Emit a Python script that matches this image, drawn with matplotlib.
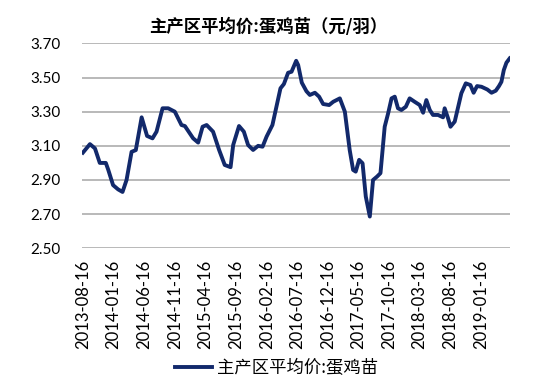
import matplotlib
matplotlib.use("Agg")
import matplotlib.pyplot as plt
import pandas as pd

title = "主产区平均价:蛋鸡苗（元/羽）"
series_name = "主产区平均价:蛋鸡苗"

dates = [
    "2013-08-16", "2013-09-20", "2013-10-15", "2013-11-08", "2013-12-08", "2013-12-20",
    "2014-01-13", "2014-02-07", "2014-03-01", "2014-03-21", "2014-04-15", "2014-05-06",
    "2014-06-04", "2014-07-01", "2014-07-28", "2014-08-17", "2014-09-16", "2014-10-14",
    "2014-11-16", "2014-12-19", "2015-01-05", "2015-02-15", "2015-03-12", "2015-04-03",
    "2015-04-23", "2015-05-25", "2015-06-24", "2015-07-22", "2015-08-20", "2015-09-02",
    "2015-10-01", "2015-10-25", "2015-11-15", "2015-12-10", "2016-01-04", "2016-01-26",
    "2016-02-15", "2016-03-15", "2016-04-24", "2016-05-11", "2016-06-01", "2016-06-18",
    "2016-07-11", "2016-07-21", "2016-08-08", "2016-08-31", "2016-09-17", "2016-10-12",
    "2016-11-02", "2016-11-22", "2016-12-22", "2017-01-11", "2017-02-13", "2017-03-10",
    "2017-04-03", "2017-04-20", "2017-05-03", "2017-05-20", "2017-06-06", "2017-06-22",
    "2017-07-12", "2017-07-28", "2017-08-17", "2017-09-03", "2017-09-24", "2017-10-11",
    "2017-10-28", "2017-11-13", "2017-11-29", "2017-12-16", "2018-01-07", "2018-01-26",
    "2018-02-20", "2018-03-17", "2018-04-03", "2018-04-19", "2018-05-06", "2018-05-22",
    "2018-06-16", "2018-07-11", "2018-07-19", "2018-08-05", "2018-08-17", "2018-09-07",
    "2018-10-10", "2018-11-01", "2018-11-24", "2018-12-10", "2018-12-27", "2019-01-18",
    "2019-02-16", "2019-03-09", "2019-03-30", "2019-04-15", "2019-04-27", "2019-05-09",
    "2019-05-22", "2019-06-07",
]
values = [
    3.06, 3.11, 3.085, 3.00, 3.00, 2.96,
    2.87, 2.845, 2.83, 2.90, 3.065, 3.075,
    3.267, 3.158, 3.144, 3.183, 3.32, 3.32,
    3.30, 3.222, 3.216, 3.144, 3.119, 3.212,
    3.222, 3.183, 3.076, 2.988, 2.975, 3.105,
    3.216, 3.183, 3.105, 3.076, 3.10, 3.095,
    3.154, 3.222, 3.437, 3.462, 3.528, 3.534,
    3.598, 3.573, 3.47, 3.42, 3.398, 3.411,
    3.388, 3.345, 3.339, 3.358, 3.378, 3.30,
    3.076, 2.959, 2.949, 3.018, 2.998, 2.803,
    2.686, 2.90, 2.92, 2.94, 3.212, 3.29,
    3.378, 3.388, 3.32, 3.31, 3.329, 3.378,
    3.358, 3.339, 3.294, 3.368, 3.31, 3.281,
    3.281, 3.267, 3.32, 3.261, 3.212, 3.242,
    3.408, 3.466, 3.456, 3.411, 3.45, 3.446,
    3.43, 3.411, 3.423, 3.45, 3.475, 3.544,
    3.587, 3.612,
]

tick_labels = [
    "2013-08-16", "2014-01-16", "2014-06-16", "2014-11-16", "2015-04-16",
    "2015-09-16", "2016-02-16", "2016-07-16", "2016-12-16", "2017-05-16",
    "2017-10-16", "2018-03-16", "2018-08-16", "2019-01-16",
]
y_ticks = [2.50, 2.70, 2.90, 3.10, 3.30, 3.50, 3.70]

num_font = "Lato"
cjk = ["Noto Sans CJK SC", "DejaVu Sans"]

fig = plt.figure(figsize=(5.5, 3.91), dpi=100)
ax = fig.add_axes([0.1485, 0.365, 0.927 - 0.1485, 0.889 - 0.365])

x = pd.to_datetime(dates)
line, = ax.plot(x, values, color="#12296B", lw=2.8, solid_joinstyle="round",
                label=series_name)

ax.set_ylim(2.50, 3.70)
ax.set_yticks(y_ticks)
ax.set_yticklabels([f"{v:.2f}" for v in y_ticks], fontfamily=num_font, fontsize=11)
ax.yaxis.grid(True, color="#A6A6A6", lw=1.1)
ax.set_axisbelow(True)

ax.set_xlim(pd.Timestamp("2013-08-10"), pd.Timestamp("2019-06-08"))
ax.set_xticks(pd.to_datetime(tick_labels))
ax.set_xticklabels(tick_labels, rotation=90, fontfamily=num_font, fontsize=12)
ax.tick_params(axis="x", length=0, pad=8)
ax.tick_params(axis="y", length=0, pad=15)

for s in ax.spines.values():
    s.set_visible(False)

fig.text(0.487, 0.931, title, ha="center", va="center", fontsize=12.5,
         fontweight="bold", family=cjk)

leg = fig.legend(handles=[line], labels=[series_name], loc="center",
                 bbox_to_anchor=(0.503, 0.059), frameon=False,
                 prop={"family": cjk, "size": 12.5}, handlelength=2.1,
                 handletextpad=0.3)

fig.savefig("out.png", dpi=100)
